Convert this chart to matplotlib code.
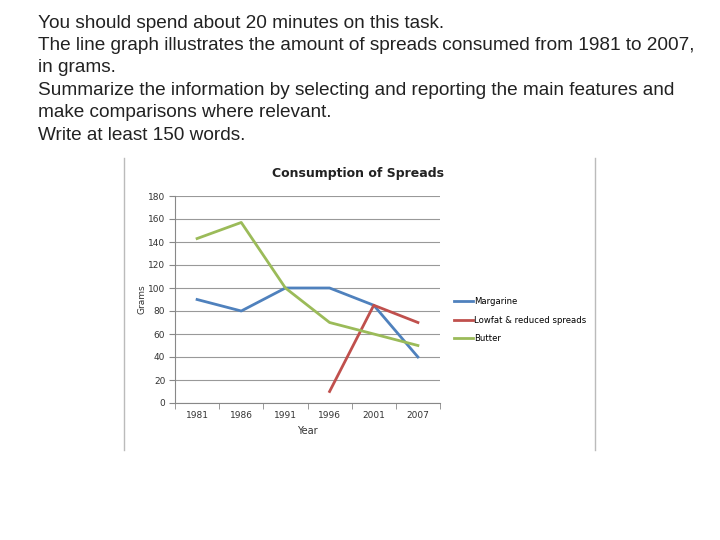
import numpy as np
import matplotlib.pyplot as plt
from matplotlib.lines import Line2D

# data
years = ['1981', '1986', '1991', '1996', '2001', '2007']
margarine = [90, 80, 100, 100, 85, 40]
lowfat = [np.nan, np.nan, np.nan, 10, 85, 70]
butter = [143, 157, 100, 70, 60, 50]
yticks = [0, 20, 40, 60, 80, 100, 120, 140, 160, 180]

task_lines = [
    "You should spend about 20 minutes on this task.",
    "The line graph illustrates the amount of spreads consumed from 1981 to 2007,",
    "in grams.",
    "Summarize the information by selecting and reporting the main features and",
    "make comparisons where relevant.",
    "Write at least 150 words.",
]

fig = plt.figure(figsize=(7.2, 5.4), dpi=100)

# task text
for i, line in enumerate(task_lines):
    fig.text(38 / 720, 1 - (23 + i * 22.4) / 540, line, fontsize=13.7,
             family='Liberation Sans', color='#222222', va='center', ha='left')

# chart frame (left and right border lines)
fig.add_artist(Line2D([124 / 720, 124 / 720], [1 - 158 / 540, 1 - 450 / 540], color='#bbbbbb', lw=1))
fig.add_artist(Line2D([595 / 720, 595 / 720], [1 - 158 / 540, 1 - 450 / 540], color='#bbbbbb', lw=1))

ax = fig.add_axes([175 / 720, 1 - 403 / 540, 265 / 720, 207 / 540])
x = np.arange(len(years))
ax.plot(x, margarine, color='#4F81BD', lw=2, label='Margarine')
ax.plot(x, lowfat, color='#C0504D', lw=2, label='Lowfat & reduced spreads')
ax.plot(x, butter, color='#9BBB59', lw=2, label='Butter')

ax.set_xlim(-0.5, len(years) - 0.5)
ax.set_ylim(0, 180)
ax.set_yticks(yticks)
ax.set_yticklabels([str(v) for v in yticks], fontsize=6.5, color='#333333')
ax.set_xticks(x)
ax.set_xticklabels(years, fontsize=6.5, color='#333333')
ax.set_xticks(np.arange(-0.5, len(years)), minor=True)
ax.tick_params(axis='x', which='major', length=0, pad=6)
ax.tick_params(axis='x', which='minor', length=4, color='#888888', direction='out')
ax.tick_params(axis='y', length=4, color='#888888', pad=3)
ax.grid(axis='y', color='#999999', lw=0.8)
ax.set_axisbelow(True)
for s in ['top', 'right']:
    ax.spines[s].set_visible(False)
ax.spines['left'].set_color('#888888')
ax.spines['bottom'].set_color('#888888')

ax.set_title('Consumption of Spreads', fontsize=9, fontweight='bold', color='#222222',
             x=0.69, pad=14)
ax.set_ylabel('Grams', fontsize=6.5, color='#333333', labelpad=1)
ax.set_xlabel('Year', fontsize=7, color='#333333', labelpad=4)

ax.legend(loc='center left', bbox_to_anchor=(1.025, 0.40), frameon=False,
          fontsize=6.1, handlelength=2.2, labelspacing=1.1, handletextpad=0.1)

fig.savefig('out.png', dpi=100)
